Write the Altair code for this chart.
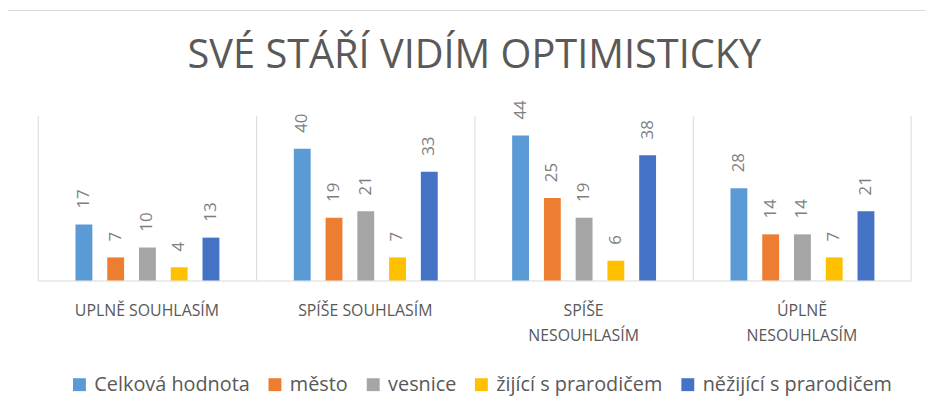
import altair as alt
import pandas as pd

categories = ["UPLNĚ SOUHLASÍM", "SPÍŠE SOUHLASÍM", "SPÍŠE NESOUHLASÍM", "ÚPLNĚ NESOUHLASÍM"]
series = ["Celková hodnota", "město", "vesnice", "žijící s prarodičem", "něžijící s prarodičem"]
colors = ["#5B9BD5", "#ED7D31", "#A5A5A5", "#FFC000", "#4472C4"]
values = {
    "Celková hodnota": [17, 40, 44, 28],
    "město": [7, 19, 25, 14],
    "vesnice": [10, 21, 19, 14],
    "žijící s prarodičem": [4, 7, 6, 7],
    "něžijící s prarodičem": [13, 33, 38, 21],
}
title_text = "SVÉ STÁŘÍ VIDÍM OPTIMISTICKY"

rows = []
for s in series:
    for c, v in zip(categories, values[s]):
        rows.append({"kategorie": c, "skupina": s, "hodnota": v})
df = pd.DataFrame(rows)

W, H = 880, 166
FONT = "Open Sans"
GRAY = "#595959"
LINE = "#d9d9d9"

x_enc = alt.X(
    "kategorie:N",
    sort=categories,
    scale=alt.Scale(paddingInner=0, paddingOuter=0),
    axis=alt.Axis(
        title=None,
        labelAngle=0,
        labelFont=FONT,
        labelFontSize=16,
        labelColor=GRAY,
        labelPadding=22,
        labelLineHeight=25,
        labelLimit=400,
        labelExpr="indexof(datum.label, 'NESOUHLAS') >= 0 ? split(datum.label, ' ') : datum.label",
        ticks=False,
        grid=True,
        gridColor=LINE,
        gridWidth=1,
        bandPosition=0,
        domainColor=LINE,
        domainWidth=1,
    ),
)
xoff_enc = alt.XOffset(
    "skupina:N",
    sort=series,
    scale=alt.Scale(range=[38, 183], paddingInner=0.469, paddingOuter=0),
)
y_enc = alt.Y("hodnota:Q", scale=alt.Scale(domain=[0, 50]), axis=None)

bars = alt.Chart(df).mark_bar().encode(
    x=x_enc,
    xOffset=xoff_enc,
    y=y_enc,
    color=alt.Color(
        "skupina:N",
        sort=series,
        scale=alt.Scale(domain=series, range=colors),
        legend=alt.Legend(
            title=None,
            orient="none",
            direction="horizontal",
            legendX=32,
            legendY=261,
            symbolType="square",
            symbolSize=169,
            symbolStrokeWidth=0,
            labelFont=FONT,
            labelFontSize=20,
            labelColor=GRAY,
            labelOffset=5,
            columnPadding=15,
            labelLimit=400,
        ),
    ),
)

labels = alt.Chart(df).mark_text(
    angle=270,
    align="left",
    baseline="middle",
    dx=16,
    font=FONT,
    fontSize=17,
    color="#7f7f7f",
).encode(
    x=alt.X("kategorie:N", sort=categories),
    xOffset=alt.XOffset("skupina:N", sort=series),
    y=alt.Y("hodnota:Q"),
    text=alt.Text("hodnota:Q"),
)

frame_df = pd.DataFrame({"k": [0]})
right_line = alt.Chart(frame_df).mark_rule(color=LINE, strokeWidth=1).encode(
    x=alt.value(W), y=alt.value(0), y2=alt.value(H)
)
outer = alt.Chart(frame_df).mark_rect(fillOpacity=0, stroke=LINE, strokeWidth=1).encode(
    x=alt.value(-32), x2=alt.value(902), y=alt.value(-106), y2=alt.value(320)
)

chart = (
    alt.layer(outer, bars, labels, right_line)
    .properties(
        width=W,
        height=H,
        title=alt.TitleParams(
            title_text,
            font=FONT,
            fontSize=40,
            fontWeight="normal",
            color=GRAY,
            anchor="middle",
            frame="group",
            baseline="alphabetic",
            offset=-98,
        ),
        autosize=alt.AutoSizeParams(type="none"),
        padding={"left": 30, "top": 107, "right": 14, "bottom": 134},
        background="white",
    )
    .configure_view(stroke="transparent")
)

chart.save("out.html", embed_options={"renderer": "svg", "actions": False})
